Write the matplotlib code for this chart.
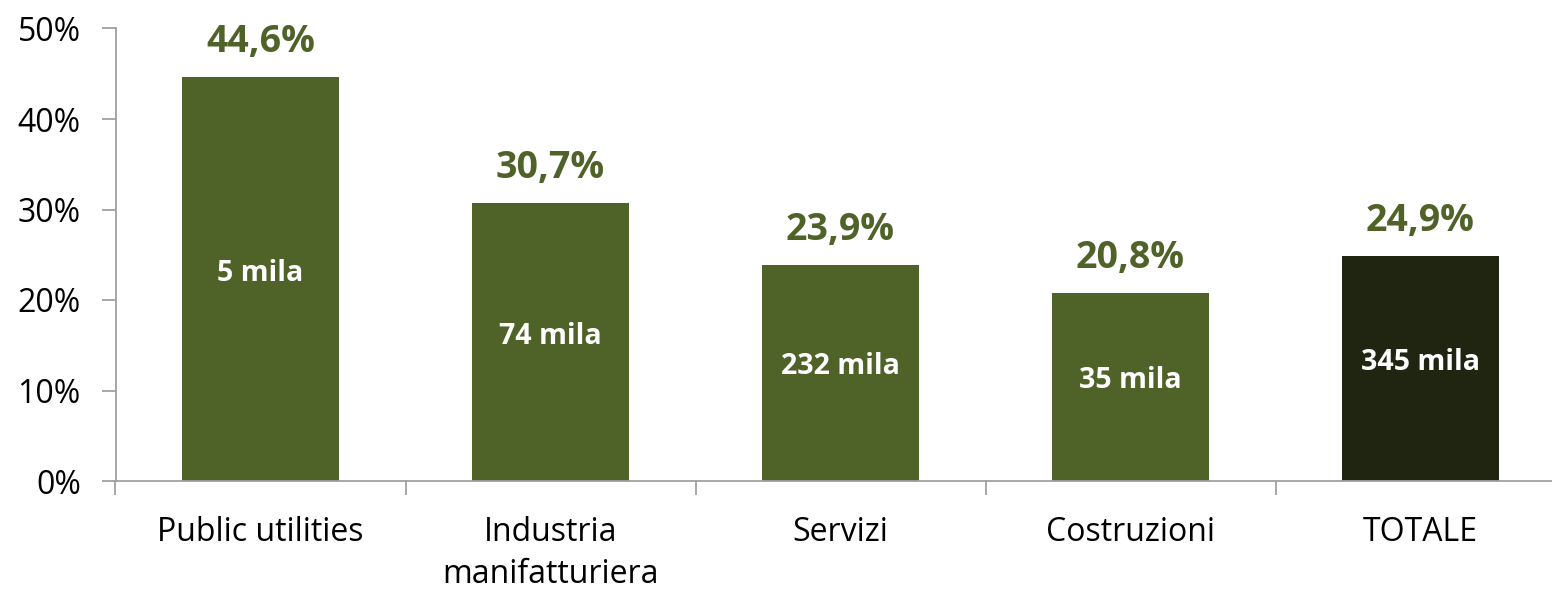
import matplotlib
matplotlib.use("Agg")
import matplotlib.pyplot as plt
from matplotlib.ticker import FixedLocator, FuncFormatter

categories = ["Public utilities", "Industria\nmanifatturiera", "Servizi", "Costruzioni", "TOTALE"]
values = [44.6, 30.7, 23.9, 20.8, 24.9]
value_labels = ["44,6%", "30,7%", "23,9%", "20,8%", "24,9%"]
inner_labels = ["5 mila", "74 mila", "232 mila", "35 mila", "345 mila"]
yticks = [0, 10, 20, 30, 40, 50]

FONT = "Open Sans"
GREEN = "#4F6228"
DARK = "#1F2510"
GREY = "#A0A0A0"

W, H = 1552, 590
fig = plt.figure(figsize=(W / 100, H / 100), dpi=100)
left, right_end, bottom, top = 115.5, 115.5 + 5 * 290, 481, 28.5
ax = fig.add_axes([left / W, (H - bottom) / H, (right_end - left) / W, (bottom - top) / H])

colors = [GREEN] * (len(values) - 1) + [DARK]
x = list(range(len(values)))
bars = ax.bar(x, values, width=0.54, color=colors, zorder=2)

ax.set_xlim(-0.5, len(values) - 0.5)
ax.set_ylim(0, 50)

for xi, v, vl, il in zip(x, values, value_labels, inner_labels):
    ax.annotate(vl, (xi, v), xytext=(0, 35), textcoords="offset pixels",
                ha="center", va="center", fontsize=27, fontweight="bold",
                color=GREEN, family=FONT)
    ax.annotate(il, (xi, v / 2), xytext=(0, 6), textcoords="offset pixels",
                ha="center", va="center", fontsize=20.5,
                fontweight="bold", color="white", family=FONT)

for s in ["top", "right"]:
    ax.spines[s].set_visible(False)
for s in ["left", "bottom"]:
    ax.spines[s].set_color(GREY)
    ax.spines[s].set_linewidth(1.3)

ax.set_yticks(yticks)
ax.yaxis.set_major_formatter(FuncFormatter(lambda v, p: f"{int(v)}%"))
ax.tick_params(axis="y", length=10, width=1.3, color=GREY, pad=15,
               labelsize=23, labelcolor="black")
for lab in ax.get_yticklabels():
    lab.set_family(FONT)

ax.set_xticks(x)
ax.set_xticklabels(categories, family=FONT, fontsize=23, linespacing=1.36)
ax.tick_params(axis="x", which="major", length=0, pad=25, labelcolor="black")
ax.xaxis.set_minor_locator(FixedLocator([i - 0.5 for i in range(len(values) + 1)]))
ax.tick_params(axis="x", which="minor", length=10, width=1.3, color=GREY)
for lab in ax.get_xticklabels():
    lab.set_verticalalignment("top")

fig.savefig("out.png", dpi=100, facecolor="white")
